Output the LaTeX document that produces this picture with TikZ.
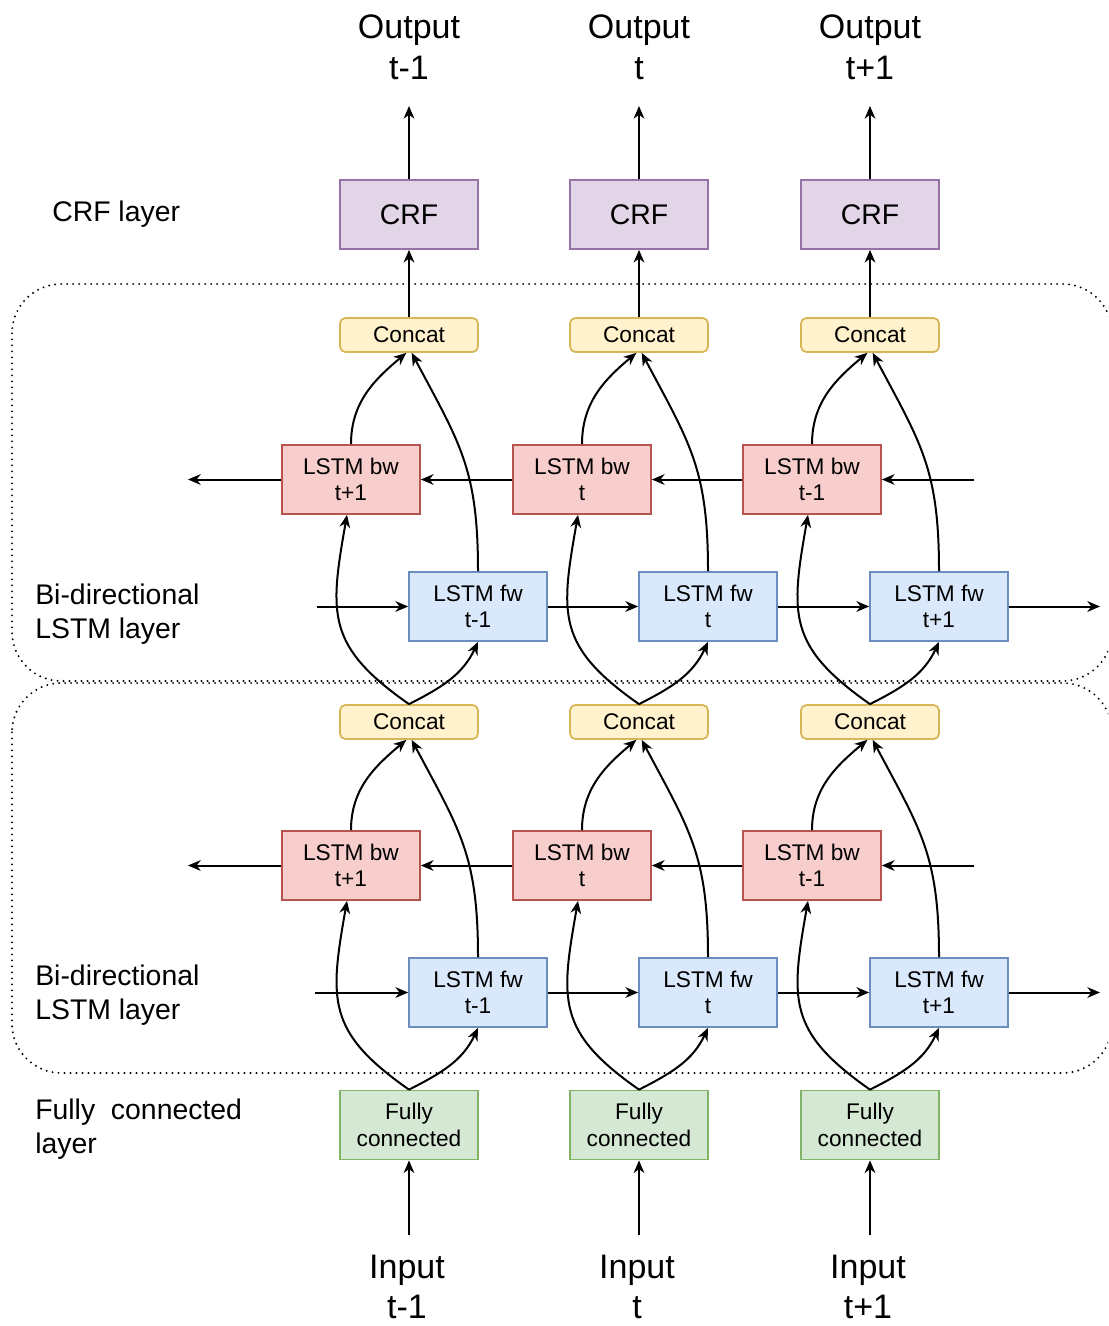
\documentclass[tikz,border=0pt]{standalone}
\usepackage{fontspec}
\setmainfont{Liberation Sans}
\usetikzlibrary{arrows.meta}

\definecolor{crfFill}{HTML}{E1D5E7}\definecolor{crfLine}{HTML}{9673A6}
\definecolor{catFill}{HTML}{FFF2CC}\definecolor{catLine}{HTML}{D6B656}
\definecolor{bwFill}{HTML}{F8CECC}\definecolor{bwLine}{HTML}{B85450}
\definecolor{fwFill}{HTML}{DAE8FC}\definecolor{fwLine}{HTML}{6C8EBF}
\definecolor{fcFill}{HTML}{D5E8D4}\definecolor{fcLine}{HTML}{82B366}

\tikzset{
  cell/.style={draw, line width=1.3pt, minimum width=103.5pt, minimum height=51.75pt,
    inner sep=0pt, align=center, font=\fontsize{17}{20}\selectfont},
  crfbox/.style={cell, fill=crfFill, draw=crfLine, font=\fontsize{21.3}{25}\selectfont},
  concatbox/.style={cell, minimum height=25.5pt, rounded corners=4pt, fill=catFill, draw=catLine},
  bwbox/.style={cell, fill=bwFill, draw=bwLine},
  fwbox/.style={cell, fill=fwFill, draw=fwLine},
  fcbox/.style={cell, fill=fcFill, draw=fcLine},
  arr/.style={line width=1.5pt, -{Stealth[length=9.5pt,width=8pt,inset=3pt]}},
  big/.style={font=\fontsize{25.5}{30.5}\selectfont, align=center, inner sep=0pt},
  side/.style={font=\fontsize{21.3}{25.5}\selectfont, align=left, anchor=west, inner sep=0pt},
  layerbox/.style={dash pattern=on 0pt off 4.5pt, line cap=round, line width=1.6pt, rounded corners=37pt}
}

\begin{document}
\begin{tikzpicture}[x=0.75pt,y=-0.75pt]
\path[use as bounding box, clip] (0,0) rectangle (1108,1326);

% layer frames
\draw[layerbox] (12,284) rectangle (1112,681);
\draw[layerbox] (12,683) rectangle (1112,1073);

% layer labels
\node[side] (lblcrf) at (52,214) {CRF layer};
\node[side] (lblA) at (35,614) {Bi-directional\\LSTM layer};
\node[side] (lblB) at (35,995) {Bi-directional\\LSTM layer};
\node[side] (lblfc) at (35,1129) {Fully\ \ connected\\layer};

% one column per time step
\foreach \i/\cx/\bwx/\fwx/\bwl/\fwl/\tl in
  {1/409/351/478/t+1/t-1/t-1, 2/639/582/708/t/t/t, 3/870/812/939/t-1/t+1/t+1}{
  \node[big] (out\i) at (\cx,47) {Output\\\tl};
  \node[crfbox] (crf\i) at (\cx,214.5) {CRF};
  \node[concatbox] (catA\i) at (\cx,335) {Concat};
  \node[bwbox] (bwA\i) at (\bwx,479.5) {LSTM bw\\\bwl};
  \node[fwbox] (fwA\i) at (\fwx,606.5) {LSTM fw\\\fwl};
  \node[concatbox] (catB\i) at (\cx,722) {Concat};
  \node[bwbox] (bwB\i) at (\bwx,865.5) {LSTM bw\\\bwl};
  \node[fwbox] (fwB\i) at (\fwx,992.5) {LSTM fw\\\fwl};
  \node[fcbox] (fc\i) at (\cx,1125) {Fully\\connected};
  \node[big] (in\i) at (\cx-2,1287) {Input\\\tl};
  \coordinate (outtip\i) at (\cx,106);
  \coordinate (intail\i) at (\cx,1235);

  \draw[arr] (crf\i.north) -- (outtip\i);
  \draw[arr] (catA\i.north) -- (crf\i.south);
  \draw[arr] (intail\i) -- (fc\i.south);

  % upper bi-LSTM layer
  \draw[arr] (bwA\i.north) to[out=90,in=-140] ([xshift=-2pt]catA\i.south);
  \draw[arr] (fwA\i.north) to[out=90,in=-62,looseness=1.15] ([xshift=2pt]catA\i.south);
  \draw[arr] (catB\i.north) to[out=145,in=-100,looseness=1.3] ([xshift=-3pt]bwA\i.south);
  \draw[arr] (catB\i.north) to[out=27,in=-115] (fwA\i.south);

  % lower bi-LSTM layer
  \draw[arr] (bwB\i.north) to[out=90,in=-140] ([xshift=-2pt]catB\i.south);
  \draw[arr] (fwB\i.north) to[out=90,in=-62,looseness=1.15] ([xshift=2pt]catB\i.south);
  \draw[arr] (fc\i.north) to[out=145,in=-100,looseness=1.3] ([xshift=-3pt]bwB\i.south);
  \draw[arr] (fc\i.north) to[out=27,in=-115] (fwB\i.south);
}

% recurrent connections
\coordinate (bwAin) at (974,479.5);  \coordinate (bwAout) at (188,479.5);
\coordinate (fwAin) at (317,606.5);  \coordinate (fwAout) at (1100,606.5);
\coordinate (bwBin) at (974,865.5);  \coordinate (bwBout) at (188,865.5);
\coordinate (fwBin) at (315,992.5);  \coordinate (fwBout) at (1100,992.5);

\foreach \L in {A,B}{
  \draw[arr] (bw\L in) -- (bw\L3.east);
  \draw[arr] (bw\L3.west) -- (bw\L2.east);
  \draw[arr] (bw\L2.west) -- (bw\L1.east);
  \draw[arr] (bw\L1.west) -- (bw\L out);
  \draw[arr] (fw\L in) -- (fw\L1.west);
  \draw[arr] (fw\L1.east) -- (fw\L2.west);
  \draw[arr] (fw\L2.east) -- (fw\L3.west);
  \draw[arr] (fw\L3.east) -- (fw\L out);
}
\end{tikzpicture}
\end{document}
